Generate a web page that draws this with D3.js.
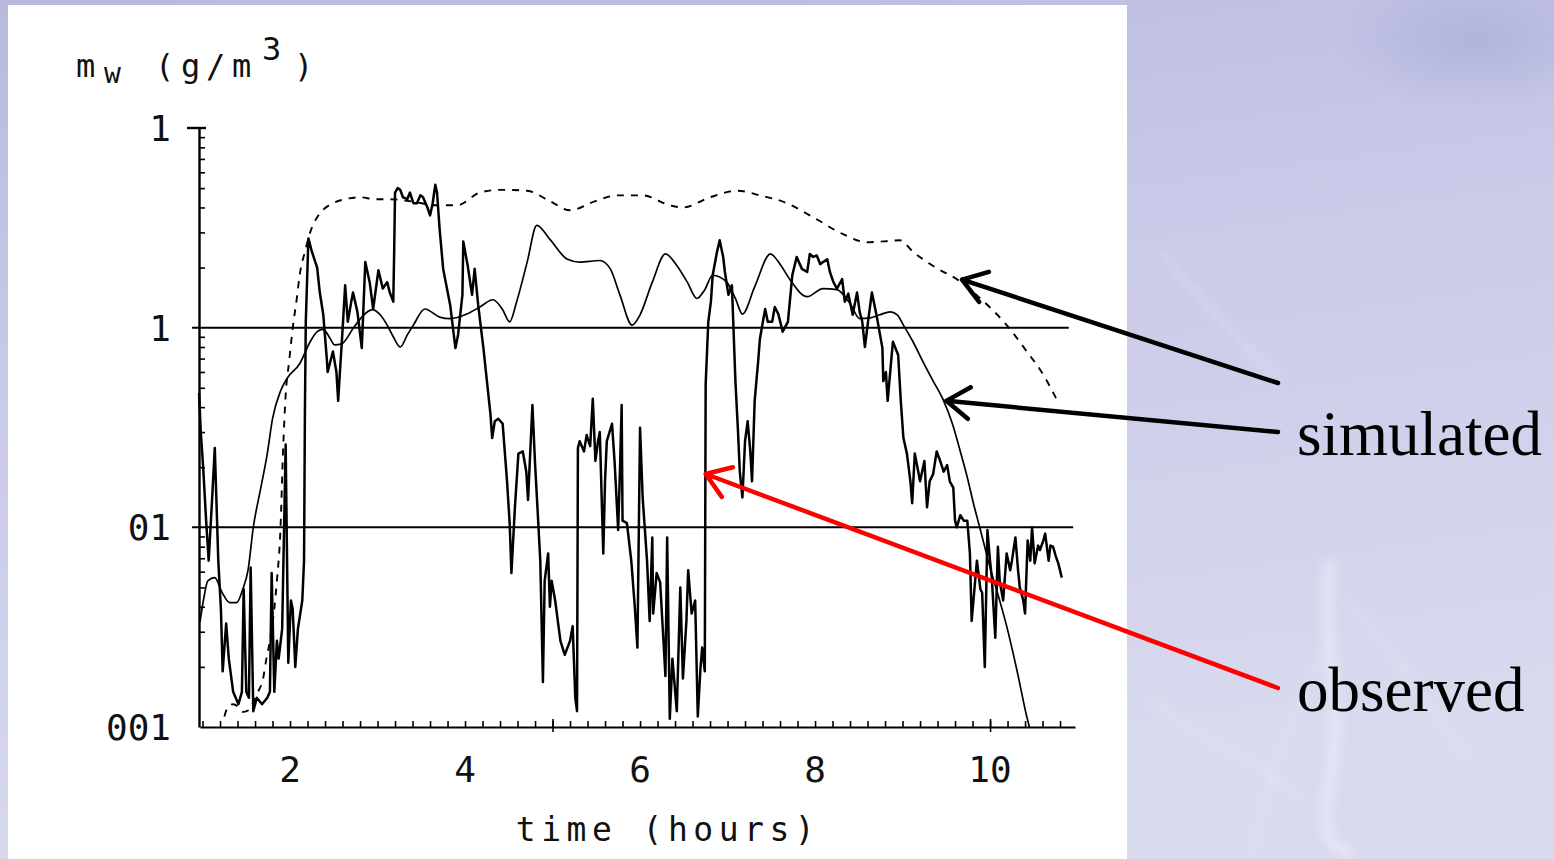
<!DOCTYPE html>
<html>
<head>
<meta charset="utf-8">
<script src="https://cdn.jsdelivr.net/npm/d3@7"></script>
<style>
  html, body { margin: 0; padding: 0; overflow: hidden; background: #c4c4e4; }
  svg { display: block; }
  .tickLabel { font-family: "DejaVu Sans Mono", monospace; font-size: 36px; fill: #111; }
  .axisTitle { font-family: "DejaVu Sans Mono", monospace; fill: #111; }
  .callout { font-family: "Liberation Serif", "Times New Roman", serif; font-size: 63px; fill: #000; }
</style>
</head>
<body>
<div id="chart"></div>
<script>
// data (time in hours, m_w in g/m^3)

var xTickValues = [2, 4, 6, 8, 10];
var yTickValues = [10, 1, 0.1, 0.01];
var yTickLabels = ["1", "1", "01", "001"];   // as printed (decimal points lost in the scan)
var refLevels = [1, 0.1];

// observed
var obsTime = [
  0.96,0.98,1.01,1.04,1.07,1.11,1.14,1.18,1.21,1.23,
  1.27,1.30,1.35,1.41,1.45,1.47,1.50,1.53,1.55,1.58,
  1.62,1.68,1.74,1.77,1.79,1.82,1.85,1.87,1.91,1.95,
  1.98,2.01,2.03,2.06,2.09,2.14,2.16,2.17,2.18,2.21,
  2.25,2.31,2.34,2.38,2.42,2.43,2.49,2.53,2.55,2.57,
  2.59,2.63,2.66,2.70,2.72,2.77,2.82,2.86,2.91,2.95,
  3.01,3.06,3.11,3.14,3.18,3.19,3.20,3.23,3.26,3.29,
  3.34,3.37,3.41,3.45,3.49,3.52,3.57,3.60,3.63,3.66,
  3.68,3.71,3.75,3.79,3.83,3.89,3.92,3.97,3.98,4.03,
  4.08,4.11,4.15,4.21,4.25,4.29,4.31,4.34,4.38,4.43,
  4.48,4.51,4.53,4.57,4.61,4.66,4.70,4.72,4.77,4.80,
  4.83,4.86,4.89,4.91,4.95,4.97,4.99,5.03,5.09,5.14,
  5.20,5.23,5.26,5.28,5.29,5.31,5.36,5.39,5.43,5.46,
  5.49,5.52,5.54,5.58,5.60,5.62,5.68,5.71,5.75,5.77,
  5.79,5.80,5.85,5.90,5.94,5.97,6.00,6.03,6.08,6.11,
  6.14,6.15,6.19,6.23,6.25,6.29,6.31,6.34,6.37,6.42,
  6.46,6.49,6.53,6.55,6.59,6.63,6.66,6.69,6.71,6.74,
  6.75,6.78,6.81,6.83,6.88,6.91,6.95,6.97,7.01,7.05,
  7.09,7.12,7.14,7.17,7.20,7.23,7.26,7.28,7.31,7.35,
  7.37,7.43,7.46,7.51,7.54,7.58,7.63,7.69,7.74,7.79,
  7.85,7.91,7.94,7.98,8.02,8.06,8.09,8.14,8.17,8.21,
  8.25,8.31,8.34,8.38,8.43,8.48,8.51,8.54,8.57,8.61,
  8.65,8.71,8.77,8.78,8.81,8.83,8.87,8.89,8.95,8.98,
  9.01,9.05,9.09,9.11,9.14,9.18,9.20,9.25,9.28,9.31,
  9.35,9.39,9.43,9.47,9.51,9.54,9.58,9.60,9.62,9.66,
  9.70,9.74,9.77,9.79,9.83,9.85,9.89,9.91,9.94,9.97,
  10.00,10.02,10.06,10.09,10.11,10.15,10.19,10.23,10.25,10.29,
  10.32,10.34,10.38,10.40,10.43,10.46,10.48,10.51,10.55,10.57,
  10.61,10.63,10.67,10.69,10.72,10.75,10.78,10.82
];
var obsMw = [
  0.47,0.30,0.19,0.11,0.068,0.14,0.25,0.068,0.039,0.019,
  0.033,0.022,0.015,0.013,0.015,0.049,0.015,0.014,0.063,0.012,
  0.014,0.013,0.014,0.015,0.059,0.015,0.027,0.022,0.031,0.26,
  0.021,0.043,0.039,0.020,0.031,0.043,0.068,0.38,1.07,2.8,
  2.4,2.0,1.5,1.16,0.70,0.60,0.76,0.60,0.43,0.60,
  0.82,1.63,1.07,1.35,1.5,1.2,0.79,2.13,1.69,1.24,
  1.94,1.57,1.69,1.5,1.35,2.4,4.75,5.0,4.9,4.5,
  4.4,4.75,4.2,4.2,4.6,4.5,4.0,3.65,4.2,5.2,
  4.75,3.1,1.97,1.6,1.3,0.79,0.92,1.46,2.7,2.05,
  1.46,1.97,1.3,0.79,0.54,0.37,0.28,0.34,0.35,0.33,
  0.17,0.105,0.059,0.126,0.234,0.24,0.19,0.137,0.41,0.21,
  0.12,0.068,0.0168,0.054,0.074,0.040,0.054,0.043,0.027,0.023,
  0.027,0.032,0.014,0.012,0.25,0.27,0.24,0.29,0.255,0.44,
  0.215,0.27,0.30,0.074,0.17,0.27,0.33,0.21,0.097,0.19,
  0.41,0.108,0.105,0.068,0.040,0.025,0.315,0.141,0.068,0.034,
  0.089,0.037,0.059,0.053,0.037,0.018,0.089,0.011,0.022,0.012,
  0.050,0.0175,0.034,0.061,0.037,0.043,0.0113,0.0195,0.025,0.019,
  0.52,1.07,1.35,1.83,2.4,2.74,2.26,1.9,1.46,1.63,
  0.54,0.30,0.19,0.141,0.27,0.34,0.24,0.17,0.43,0.68,
  0.88,1.24,1.07,1.07,1.27,1.17,0.955,1.07,1.83,2.26,
  1.97,1.9,2.34,2.26,2.3,2.08,2.13,2.2,1.9,1.69,
  1.57,1.75,1.35,1.48,1.16,1.5,1.2,1.07,0.80,1.11,
  1.5,1.11,0.79,0.54,0.60,0.43,0.68,0.85,0.73,0.43,
  0.28,0.234,0.17,0.132,0.234,0.19,0.17,0.215,0.126,0.17,
  0.185,0.24,0.215,0.19,0.205,0.17,0.158,0.108,0.10,0.115,
  0.108,0.108,0.074,0.034,0.054,0.068,0.049,0.047,0.020,0.097,
  0.068,0.056,0.028,0.080,0.054,0.043,0.074,0.061,0.068,0.089,
  0.061,0.050,0.043,0.037,0.086,0.068,0.10,0.066,0.081,0.077,
  0.086,0.093,0.068,0.081,0.080,0.072,0.066,0.056
];

// simulated, solid curve
var simTime = [
  0.97,1.01,1.06,1.14,1.22,1.31,1.39,1.46,1.52,1.58,
  1.66,1.74,1.80,1.89,1.97,2.11,2.23,2.31,2.38,2.46,
  2.51,2.59,2.72,2.82,2.94,3.03,3.11,3.18,3.26,3.34,
  3.41,3.54,3.71,3.83,4.02,4.17,4.32,4.43,4.51,4.59,
  4.71,4.82,4.97,5.17,5.31,5.54,5.66,5.77,5.91,6.00,
  6.14,6.29,6.42,6.54,6.65,6.74,6.83,6.99,7.09,7.17,
  7.31,7.49,7.60,7.71,7.91,8.09,8.25,8.40,8.51,8.63,
  8.74,8.86,8.94,9.01,9.12,9.23,9.35,9.46,9.57,9.66,
  9.74,9.81,9.89,10.00,10.11,10.19,10.31,10.43,10.45
];
var simMw = [
  0.0335,0.043,0.054,0.056,0.0475,0.042,0.042,0.049,0.061,0.10,
  0.153,0.234,0.35,0.48,0.56,0.66,0.85,0.955,0.98,0.88,
  0.82,0.83,0.99,1.13,1.23,1.16,1.03,0.90,0.80,0.92,
  1.03,1.24,1.13,1.11,1.17,1.27,1.38,1.23,1.07,1.35,
  2.13,3.25,2.77,2.2,2.13,2.17,1.97,1.46,1.03,1.16,
  1.69,2.34,2.05,1.69,1.40,1.55,1.83,1.69,1.40,1.17,
  1.6,2.34,2.08,1.75,1.43,1.57,1.55,1.32,1.11,1.12,
  1.16,1.2,1.16,1.03,0.85,0.68,0.54,0.44,0.33,0.24,
  0.178,0.132,0.097,0.063,0.043,0.032,0.019,0.0108,0.010
];

// simulated, dashed curve
var dashTime = [
  1.25,1.29,1.35,1.41,1.46,1.52,1.58,1.63,1.69,1.73,
  1.77,1.82,1.85,1.89,1.92,1.95,1.99,2.03,2.08,2.11,
  2.17,2.23,2.31,2.38,2.49,2.63,2.80,2.97,3.14,3.37,
  3.68,3.91,4.17,4.40,4.71,4.97,5.20,5.49,5.74,6.03,
  6.34,6.49,6.80,7.11,7.37,7.68,7.98,8.32,8.59,8.82,
  8.97,9.12,9.37,9.62,9.89,10.19,10.42,10.61,10.77
];
var dashMw = [
  0.0113,0.0126,0.0130,0.0126,0.0119,0.0121,0.0133,0.0149,0.0173,0.022,
  0.027,0.039,0.054,0.097,0.24,0.46,0.68,0.99,1.43,1.83,
  2.4,3.0,3.57,3.9,4.2,4.4,4.5,4.4,4.4,4.3,
  4.1,4.1,4.75,4.9,4.85,4.3,3.87,4.3,4.6,4.6,
  4.1,4.0,4.5,4.85,4.6,4.2,3.57,2.94,2.68,2.71,
  2.74,2.4,2.01,1.75,1.40,1.03,0.76,0.58,0.43
];

// arrows: point on the chart (hours, g/m^3) -> label end (px)
var arrowTips = [[9.68, 1.74], [9.5, 0.43], [6.75, 0.185]];
var arrowColors = ["#000", "#000", "#ff0000"];
var arrowTails = [[1278, 383], [1278, 432], [1278, 688]];

//set up svg
var svgWidth = 1554;
var svgHeight = 859;

var svg = d3.select("#chart")
  .append("svg")
  .attr("width", svgWidth)
  .attr("height", svgHeight);

var defs = svg.append("defs");

var bgGrad = defs.append("linearGradient")
  .attr("id", "bgGrad")
  .attr("x1", 0).attr("y1", 0).attr("x2", 0.25).attr("y2", 1);
bgGrad.append("stop").attr("offset", "0").attr("stop-color", "#b9b9de");
bgGrad.append("stop").attr("offset", "0.45").attr("stop-color", "#cacae9");
bgGrad.append("stop").attr("offset", "1").attr("stop-color", "#d8daee");

var spot = defs.append("radialGradient").attr("id", "spot");
spot.append("stop").attr("offset", "0").attr("stop-color", "#a3abd4").attr("stop-opacity", 0.6);
spot.append("stop").attr("offset", "1").attr("stop-color", "#a3abd4").attr("stop-opacity", 0);

defs.append("filter").attr("id", "soft")
  .attr("x", "-20%").attr("y", "-20%").attr("width", "140%").attr("height", "140%")
  .append("feGaussianBlur").attr("stdDeviation", 5);

defs.append("clipPath").attr("id", "plotClip")
  .append("rect")
  .attr("x", 196).attr("y", 110)
  .attr("width", 884).attr("height", 619);

// background
svg.append("rect")
  .attr("width", svgWidth).attr("height", svgHeight)
  .attr("fill", "url(#bgGrad)");

svg.append("ellipse")
  .attr("cx", 1475).attr("cy", 40).attr("rx", 140).attr("ry", 70)
  .attr("fill", "url(#spot)");

// faint lightning streaks behind the labels
var streaks = [
  "M1330,560 C1320,640 1345,700 1330,780 S1345,840 1350,859",
  "M1330,640 C1300,700 1270,760 1250,859",
  "M1345,600 C1390,640 1420,700 1470,760",
  "M1160,250 C1200,300 1230,330 1280,380",
  "M1150,700 C1200,740 1260,760 1300,800"
];
svg.append("g")
  .attr("filter", "url(#soft)")
  .selectAll("path")
  .data(streaks)
  .enter()
  .append("path")
  .attr("d", d => d)
  .attr("fill", "none")
  .attr("stroke", "#eef0fa")
  .attr("stroke-width", (d, i) => i === 0 ? 12 : 6)
  .attr("stroke-opacity", (d, i) => i === 0 ? 0.55 : 0.3);

// white page of the scanned figure
svg.append("rect")
  .attr("x", 8).attr("y", 5)
  .attr("width", 1119).attr("height", 854)
  .attr("fill", "#fff");

// scales
var x = d3.scaleLinear().domain([0.971, 10.971]).range([200, 1075]);
var y = d3.scaleLog().domain([0.01, 10]).range([727, 128]);

var chartGroup = svg.append("g");

// reference lines at 1 and 0.1
chartGroup.selectAll(".refLine")
  .data(refLevels)
  .enter()
  .append("line")
  .attr("class", "refLine")
  .attr("x1", x(0.88))
  .attr("x2", (d, i) => x(i === 0 ? 10.9 : 10.95))
  .attr("y1", d => y(d))
  .attr("y2", d => y(d))
  .attr("stroke", "#000")
  .attr("stroke-width", 2);

var plot = chartGroup.append("g").attr("clip-path", "url(#plotClip)");

var line = d3.line()
  .x(d => x(d.t))
  .y(d => y(d.v));

var obsData = obsTime.map((t, i) => ({ t: t, v: obsMw[i] }));
var simData = simTime.map((t, i) => ({ t: t, v: simMw[i] }));
var dashData = dashTime.map((t, i) => ({ t: t, v: dashMw[i] }));

plot.append("path")
  .datum(dashData)
  .attr("d", line.curve(d3.curveMonotoneX))
  .attr("fill", "none")
  .attr("stroke", "#000")
  .attr("stroke-width", 1.9)
  .attr("stroke-dasharray", "7,7");

plot.append("path")
  .datum(simData)
  .attr("d", line.curve(d3.curveMonotoneX))
  .attr("fill", "none")
  .attr("stroke", "#000")
  .attr("stroke-width", 1.7);

plot.append("path")
  .datum(obsData)
  .attr("d", line.curve(d3.curveLinear))
  .attr("fill", "none")
  .attr("stroke", "#000")
  .attr("stroke-width", 2.5)
  .attr("stroke-linejoin", "round");

// y axis: log minor ticks pointing inward
var yMinor = [];
[0.01, 0.1, 1].forEach(function(dec) {
  for (var k = 2; k <= 9; k++) yMinor.push(dec * k);
});

var yAxisG = chartGroup.append("g")
  .attr("transform", "translate(199,0)")
  .call(d3.axisRight(y).tickValues(yMinor).tickSize(6).tickSizeOuter(0).tickFormat(""));
yAxisG.select(".domain").attr("stroke-width", 2.4);
yAxisG.selectAll(".tick line").attr("stroke-width", 1.6);

// top major tick (the "E" at 10)
chartGroup.append("line")
  .attr("x1", 187).attr("x2", 206)
  .attr("y1", y(10)).attr("y2", y(10))
  .attr("stroke", "#000").attr("stroke-width", 2.4);

// x axis: 0.2 h minor ticks pointing up
var xMinor = d3.range(1, 10.85, 0.2);
var xAxisG = chartGroup.append("g")
  .attr("transform", "translate(0," + y(0.01) + ")")
  .call(d3.axisTop(x).tickValues(xMinor).tickSize(6).tickSizeOuter(0).tickFormat(""));
xAxisG.select(".domain").attr("stroke-width", 2.2);
xAxisG.selectAll(".tick line").attr("stroke-width", 1.6);

var xLongG = chartGroup.append("g")
  .attr("transform", "translate(0," + (y(0.01) + 5) + ")")
  .call(d3.axisTop(x).tickValues([5, 10]).tickSize(13).tickSizeOuter(0).tickFormat(""));
xLongG.select(".domain").remove();
xLongG.selectAll(".tick line").attr("stroke-width", 1.6);

// tick labels
chartGroup.selectAll(".xLab")
  .data(xTickValues)
  .enter()
  .append("text")
  .attr("class", "tickLabel xLab")
  .attr("x", d => x(d))
  .attr("y", 782)
  .attr("text-anchor", "middle")
  .text(d => d);

chartGroup.selectAll(".yLab")
  .data(yTickValues)
  .enter()
  .append("text")
  .attr("class", "tickLabel yLab")
  .attr("x", 171)
  .attr("y", d => y(d) + 13)
  .attr("text-anchor", "end")
  .text((d, i) => yTickLabels[i]);

// axis titles
chartGroup.append("text")
  .attr("class", "axisTitle")
  .attr("x", 668)
  .attr("y", 841)
  .attr("text-anchor", "middle")
  .style("font-size", "33px")
  .style("letter-spacing", "5.5px")
  .text("time (hours)");

var yTitle = chartGroup.append("text")
  .attr("class", "axisTitle")
  .attr("y", 77)
  .style("font-size", "32px");
yTitle.append("tspan").attr("x", 76).text("m");
yTitle.append("tspan").attr("x", 104).attr("dy", 6).style("font-size", "28px").text("w");
yTitle.append("tspan").attr("x", 155).attr("dy", -6).text("(");
yTitle.append("tspan").attr("x", 181).text("g");
yTitle.append("tspan").attr("x", 206).text("/");
yTitle.append("tspan").attr("x", 232).text("m");
yTitle.append("tspan").attr("x", 262).attr("dy", -17).text("3");
yTitle.append("tspan").attr("x", 294).attr("dy", 17).text(")");

// callout arrows
function arrowPath(tip, tail) {
  var ang = Math.atan2(tail[1] - tip[1], tail[0] - tip[0]);
  var len = 28, spread = 0.6;
  var a1 = [tip[0] + len * Math.cos(ang - spread), tip[1] + len * Math.sin(ang - spread)];
  var a2 = [tip[0] + len * Math.cos(ang + spread), tip[1] + len * Math.sin(ang + spread)];
  return "M" + tail[0] + "," + tail[1] + "L" + tip[0] + "," + tip[1] +
    "M" + a1[0] + "," + a1[1] + "L" + tip[0] + "," + tip[1] + "L" + a2[0] + "," + a2[1];
}

svg.append("g")
  .selectAll("path")
  .data(arrowTips)
  .enter()
  .append("path")
  .attr("d", (d, i) => arrowPath([x(d[0]), y(d[1])], arrowTails[i]))
  .attr("fill", "none")
  .attr("stroke", (d, i) => arrowColors[i])
  .attr("stroke-width", 4.5)
  .attr("stroke-linecap", "round")
  .attr("stroke-linejoin", "round");

svg.append("text")
  .attr("class", "callout")
  .attr("x", 1297)
  .attr("y", 455)
  .text("simulated");

svg.append("text")
  .attr("class", "callout")
  .attr("x", 1297)
  .attr("y", 711)
  .text("observed");
</script>
</body>
</html>
